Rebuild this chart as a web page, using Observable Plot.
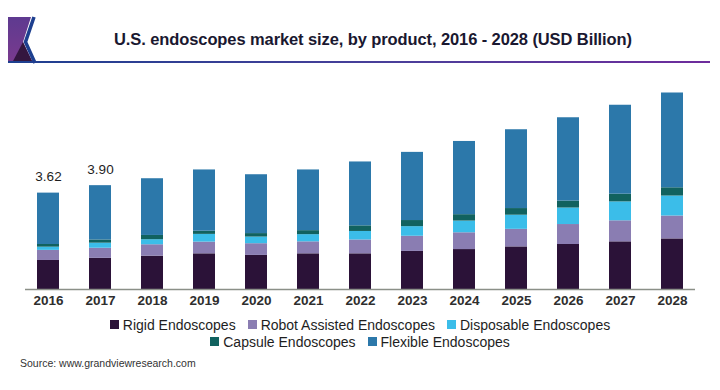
<!DOCTYPE html>
<html>
<head>
<meta charset="utf-8">
<script src="https://cdn.jsdelivr.net/npm/d3@7"></script>
<script src="https://cdn.jsdelivr.net/npm/@observablehq/plot@0.6"></script>
<style>
  html, body { margin: 0; padding: 0; background: #fff; }
  body { width: 720px; height: 390px; position: relative; overflow: hidden; font-family: "Liberation Sans", Arial, sans-serif; }
  #header { position: absolute; left: 0; top: 0; width: 720px; height: 68px; }
  #title { position: absolute; left: 0; width: 746px; top: 30px; text-align: center; font-weight: bold; font-size: 16.5px; color: #1a1830; letter-spacing: -0.1px; }
  #chart { position: absolute; left: 0; top: 68px; }
  #legend { position: absolute; left: 0; top: 316px; width: 720px; font-size: 14px; color: #1e1e1e; }
  .row { display: flex; justify-content: center; height: 17px; align-items: center; }
  .item { display: flex; align-items: center; margin: 0 6px; }
  .sw { width: 9px; height: 9px; margin-right: 4px; }
  #source { position: absolute; left: 20px; top: 357px; font-size: 10.5px; color: #333; }
</style>
</head>
<body>
<div id="header">
  <svg width="720" height="68" style="position:absolute;left:0;top:0">
    <defs>
      <linearGradient id="lg" x1="0" x2="1" y1="0" y2="0">
        <stop offset="0" stop-color="#1d3f8f"/>
        <stop offset="0.55" stop-color="#4a3f9a"/>
        <stop offset="1" stop-color="#6e2c9c"/>
      </linearGradient>
      <linearGradient id="logo" x1="0" x2="0" y1="0" y2="1">
        <stop offset="0" stop-color="#5e3a90"/>
        <stop offset="1" stop-color="#7a3a8e"/>
      </linearGradient>
    </defs>
    <polygon points="8,17 31,17 23,42 33,63 8,63" fill="url(#logo)"/>
    <polygon points="23,42 33,63 12,63" fill="#34163f"/>
    <polyline points="34,17 25.5,42 35,63" fill="none" stroke="#1d3f8f" stroke-width="3.5"/>
    <rect x="8" y="61" width="702" height="2" fill="url(#lg)"/>
  </svg>
  <div id="title">U.S. endoscopes market size, by product, 2016 - 2028 (USD Billion)</div>
</div>
<div id="chart"></div>
<div id="legend"></div>
<div id="source">Source: www.grandviewresearch.com</div>
<script>
const years = [2016, 2017, 2018, 2019, 2020, 2021, 2022, 2023, 2024, 2025, 2026, 2027, 2028];
const seriesNames = ["Rigid Endoscopes", "Robot Assisted Endoscopes", "Disposable Endoscopes", "Capsule Endoscopes", "Flexible Endoscopes"];
const seriesColors = ["#2b1238", "#8a7db2", "#3bbde9", "#11625f", "#2c78aa"];
const rigid      = [1.09, 1.17, 1.25, 1.34, 1.28, 1.34, 1.34, 1.43, 1.50, 1.60, 1.69, 1.79, 1.90];
const robot      = [0.38, 0.38, 0.43, 0.44, 0.44, 0.45, 0.52, 0.57, 0.63, 0.66, 0.75, 0.79, 0.86];
const disposable = [0.12, 0.19, 0.19, 0.29, 0.25, 0.27, 0.32, 0.36, 0.44, 0.53, 0.62, 0.71, 0.75];
const capsule    = [0.10, 0.12, 0.16, 0.12, 0.13, 0.15, 0.21, 0.23, 0.24, 0.25, 0.26, 0.29, 0.31];
const flexible   = [1.93, 2.04, 2.13, 2.30, 2.21, 2.28, 2.40, 2.56, 2.75, 2.96, 3.13, 3.34, 3.56];
const labelYears = [2016, 2017];
const labelValues = [3.62, 3.90];

const seriesValues = [rigid, robot, disposable, capsule, flexible];
const rows = [];
seriesNames.forEach((s, i) => years.forEach((y, j) => rows.push({year: y, series: s, value: seriesValues[i][j]})));
const labels = labelYears.map((y, i) => ({year: y, value: labelValues[i], text: labelValues[i].toFixed(2)}));

const chart = Plot.plot({
  width: 720,
  height: 245,
  marginLeft: 25,
  marginRight: 25,
  marginTop: 0,
  marginBottom: 24,
  style: {fontFamily: "Liberation Sans, Arial, sans-serif", background: "transparent"},
  x: {type: "band", domain: years, paddingInner: 0.58, paddingOuter: 0.15, label: null, tickSize: 0, tickPadding: 6, tickFormat: d => String(d)},
  y: {domain: [0, 8.3], axis: null},
  color: {domain: seriesNames, range: seriesColors},
  marks: [
    Plot.barY(rows, Plot.stackY({order: seriesNames, x: "year", y: "value", fill: "series"})),
    Plot.ruleY([0], {stroke: "#8b9088", strokeWidth: 1.5}),
    Plot.text(labels, {x: "year", y: "value", text: "text", dy: -12, lineAnchor: "bottom", fontSize: 13.5, fill: "#1e1e1e"}),
    Plot.axisX({tickSize: 0, tickPadding: 6, fontSize: 13.5, fontWeight: "bold", color: "#2e2e2e", tickFormat: d => String(d)})
  ]
});
chart.querySelectorAll('[aria-label="x-axis tick label"] text').forEach(t => { t.style.fontWeight = "bold"; });
document.getElementById("chart").appendChild(chart);

const legend = document.getElementById("legend");
[[0, 3], [3, 5]].forEach(([a, b]) => {
  const row = document.createElement("div");
  row.className = "row";
  for (let i = a; i < b; i++) {
    const it = document.createElement("div");
    it.className = "item";
    it.innerHTML = `<div class="sw" style="background:${seriesColors[i]}"></div><span>${seriesNames[i]}</span>`;
    row.appendChild(it);
  }
  legend.appendChild(row);
});
</script>
</body>
</html>
